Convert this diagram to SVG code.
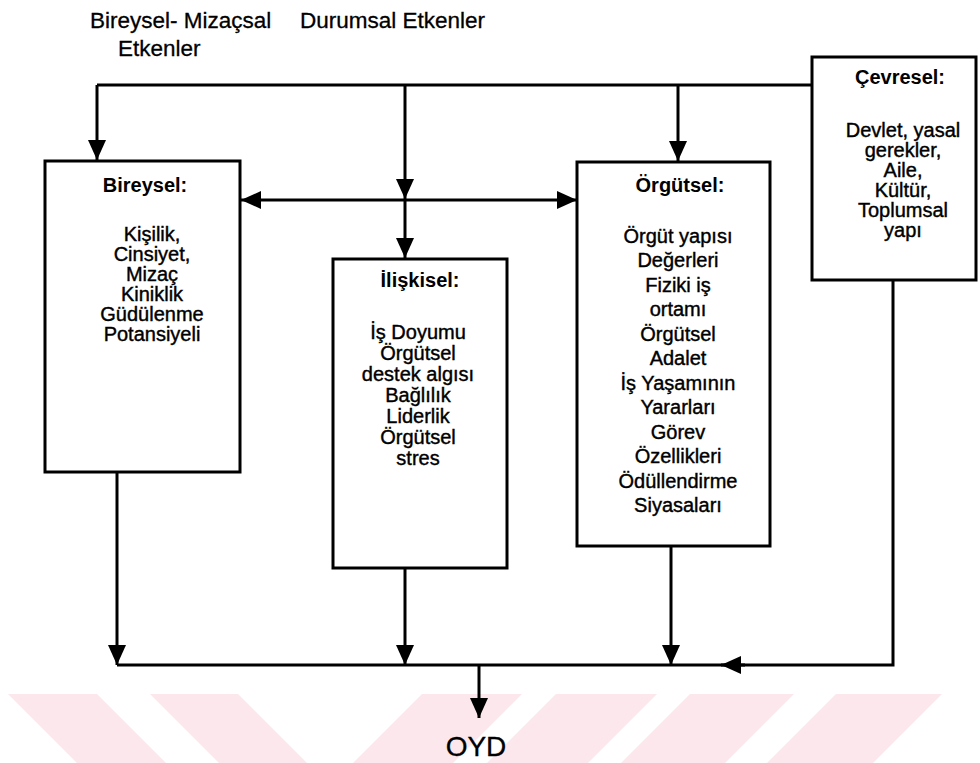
<svg xmlns="http://www.w3.org/2000/svg" width="980" height="763" viewBox="0 0 980 763">
<style>
.box{fill:#fff;stroke:#000;stroke-width:3}
.con{fill:none;stroke:#000;stroke-width:3}
.hd{font-family:"Liberation Sans",Arial,sans-serif;font-weight:bold;font-size:20px;text-anchor:middle;fill:#000}
.tx{font-family:"Liberation Sans",Arial,sans-serif;font-size:20px;text-anchor:middle;fill:#000;stroke:#000;stroke-width:0.4}
.lb{font-family:"Liberation Sans",Arial,sans-serif;font-size:22.5px;fill:#000;stroke:#000;stroke-width:0.3}
.big{font-size:28px;text-anchor:middle}
.wm{fill:#fce8ec}
</style>
<defs>
<marker id="ah" markerUnits="userSpaceOnUse" markerWidth="20" markerHeight="20" viewBox="0 0 20 20" refX="20" refY="10" orient="auto-start-reverse">
<path d="M0,1 L20,10 L0,19 z" fill="#000"/>
</marker>
</defs>
<rect width="980" height="763" fill="#fff"/>
<g id="watermark">
<polygon class="wm" points="8,694 97,694 166,763 77,763"/>
<polygon class="wm" points="150,694 238,694 307,763 219,763"/>
<polygon class="wm" points="422,694 522,694 453,763 353,763"/>
<polygon class="wm" points="556,694 657,694 588,763 487,763"/>
<polygon class="wm" points="690,694 794,694 725,763 621,763"/>
<polygon class="wm" points="836,694 942,694 873,763 767,763"/>
</g>
<g id="labels">
<text class="lb" x="90" y="28">Bireysel- Mizaçsal</text>
<text class="lb" x="118" y="56">Etkenler</text>
<text class="lb" x="300" y="28">Durumsal Etkenler</text>
</g>
<g id="connectors">
<path class="con" d="M97,85 H812"/>
<path class="con" d="M97,85 V160" marker-end="url(#ah)"/>
<path class="con" d="M405,85 V199" marker-end="url(#ah)"/>
<path class="con" d="M405,199 V258" marker-end="url(#ah)"/>
<path class="con" d="M678,85 V161" marker-end="url(#ah)"/>
<path class="con" d="M241,200 H577" marker-start="url(#ah)" marker-end="url(#ah)"/>
<path class="con" d="M117,472 V665" marker-end="url(#ah)"/>
<path class="con" d="M405,568 V665" marker-end="url(#ah)"/>
<path class="con" d="M671,546 V665" marker-end="url(#ah)"/>
<path class="con" d="M117,665 H893 V280"/>
<path class="con" d="M745,665 H721" marker-end="url(#ah)"/>
<path class="con" d="M479,665 V718" marker-end="url(#ah)"/>
</g>
<g id="bireysel">
<rect class="box" x="45" y="161" width="195" height="311"/>
<text class="hd" x="145" y="192">Bireysel:</text>
<text class="tx" x="152" y="241">Kişilik,</text>
<text class="tx" x="152" y="261">Cinsiyet,</text>
<text class="tx" x="152" y="281">Mizaç</text>
<text class="tx" x="152" y="301">Kiniklik</text>
<text class="tx" x="152" y="321">Güdülenme</text>
<text class="tx" x="152" y="341">Potansiyeli</text>
</g>
<g id="iliskisel">
<rect class="box" x="333" y="259" width="174" height="309"/>
<text class="hd" x="420" y="287">İlişkisel:</text>
<text class="tx" x="418" y="339">İş Doyumu</text>
<text class="tx" x="418" y="360">Örgütsel</text>
<text class="tx" x="418" y="381">destek algısı</text>
<text class="tx" x="418" y="402">Bağlılık</text>
<text class="tx" x="418" y="423">Liderlik</text>
<text class="tx" x="418" y="444">Örgütsel</text>
<text class="tx" x="418" y="465">stres</text>
</g>
<g id="orgutsel">
<rect class="box" x="577" y="162" width="193" height="384"/>
<text class="hd" x="680" y="192">Örgütsel:</text>
<text class="tx" x="678" y="243">Örgüt yapısı</text>
<text class="tx" x="678" y="267">Değerleri</text>
<text class="tx" x="678" y="292">Fiziki iş</text>
<text class="tx" x="678" y="316">ortamı</text>
<text class="tx" x="678" y="341">Örgütsel</text>
<text class="tx" x="678" y="365">Adalet</text>
<text class="tx" x="678" y="390">İş Yaşamının</text>
<text class="tx" x="678" y="414">Yararları</text>
<text class="tx" x="678" y="439">Görev</text>
<text class="tx" x="678" y="463">Özellikleri</text>
<text class="tx" x="678" y="488">Ödüllendirme</text>
<text class="tx" x="678" y="512">Siyasaları</text>
</g>
<g id="cevresel">
<rect class="box" x="812" y="57" width="164" height="223"/>
<text class="hd" x="900" y="84">Çevresel:</text>
<text class="tx" x="903" y="137">Devlet, yasal</text>
<text class="tx" x="903" y="157">gerekler,</text>
<text class="tx" x="903" y="177">Aile,</text>
<text class="tx" x="903" y="197">Kültür,</text>
<text class="tx" x="903" y="217">Toplumsal</text>
<text class="tx" x="903" y="237">yapı</text>
</g>
<g id="oyd">
<text class="lb big" x="476" y="756">OYD</text>
</g>
</svg>
